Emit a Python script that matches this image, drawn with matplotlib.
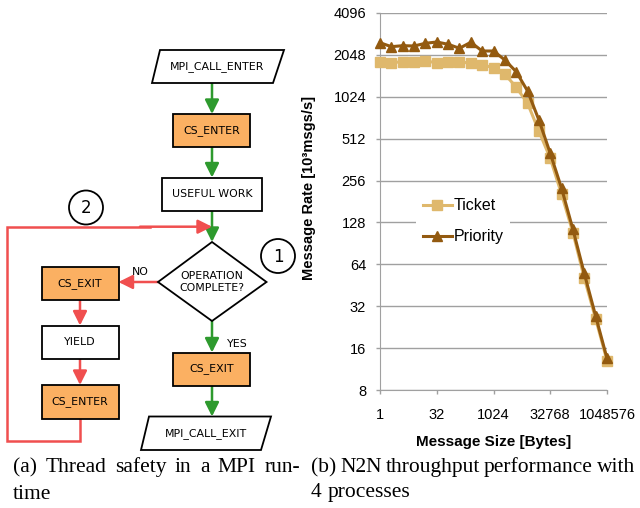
import matplotlib
matplotlib.use('Agg')
import matplotlib.pyplot as plt
from matplotlib.patches import Polygon, Rectangle, Circle
from matplotlib.ticker import NullLocator

# message size (bytes) and rate (10^3 msgs/s)
sizes = [1, 2, 4, 8, 16, 32, 64, 128, 256, 512, 1024, 2048, 4096, 8192,
         16384, 32768, 65536, 131072, 262144, 524288, 1048576]
ticket = [1830, 1800, 1830, 1830, 1850, 1800, 1830, 1830, 1780, 1730, 1660,
          1490, 1200, 920, 580, 370, 204, 108, 51, 26, 13]
priority = [2505, 2346, 2385, 2373, 2481, 2535, 2441, 2285, 2523, 2184, 2184,
            1882, 1551, 1127, 697, 402, 225, 114, 55, 27.2, 13.5]
x_ticks = [1, 32, 1024, 32768, 1048576]
y_ticks = [8, 16, 32, 64, 128, 256, 512, 1024, 2048, 4096]

caption_a = ['(a) Thread safety in a MPI run-', 'time']
caption_b = ['(b) N2N throughput performance with', '4 processes']

GREEN = '#2e9a2e'
RED = '#f04f4f'
ORANGE = '#fbb062'
TICKET = '#dfb86c'
PRIORITY = '#935a10'
GRID = '#a0a0a0'

fig = plt.figure(figsize=(6.4, 5.08), dpi=100)

# full-figure axes in pixel units for the flowchart and captions
fl = fig.add_axes([0, 0, 1, 1])
fl.set_xlim(0, 640)
fl.set_ylim(508, 0)
fl.axis('off')

FS = 7.9


def box(x0, y0, x1, y1, text, fill='white'):
    fl.add_patch(Rectangle((x0, y0), x1 - x0, y1 - y0, fc=fill, ec='black', lw=1.3, zorder=3))
    fl.text((x0 + x1) / 2, (y0 + y1) / 2, text, ha='center', va='center',
            fontsize=FS, family='DejaVu Sans', zorder=4)


def para(xb0, xb1, xt0, xt1, yt, yb, text):
    fl.add_patch(Polygon([(xb0, yb), (xb1, yb), (xt1, yt), (xt0, yt)], closed=True,
                         fc='white', ec='black', lw=1.3, zorder=3))
    fl.text((xb0 + xb1 + xt0 + xt1) / 4, (yt + yb) / 2, text, ha='center', va='center',
            fontsize=FS, family='DejaVu Sans', zorder=4)


def arrow(x0, y0, x1, y1, color):
    fl.annotate('', xy=(x1, y1), xytext=(x0, y0),
                arrowprops=dict(arrowstyle='-|>,head_length=0.6,head_width=0.3',
                                color=color, lw=1.8, shrinkA=0, shrinkB=0,
                                mutation_scale=14), zorder=2)


def numcircle(x, y, n):
    fl.add_patch(Circle((x, y), 17, fc='white', ec='black', lw=1.3, zorder=3))
    fl.text(x, y + 0.5, n, ha='center', va='center', fontsize=12, family='DejaVu Sans', zorder=4)


# main column
para(152, 273, 160, 284, 50, 83, 'MPI_CALL_ENTER')
arrow(212, 83, 212, 114, GREEN)
box(173, 114, 250, 147, 'CS_ENTER', ORANGE)
arrow(212, 147, 212, 177.5, GREEN)
box(162, 177.5, 262, 211, 'USEFUL WORK')
arrow(212, 211, 212, 242, GREEN)
fl.add_patch(Polygon([(212, 242), (266.5, 282), (212, 321), (158, 282)], closed=True,
                     fc='white', ec='black', lw=1.3, zorder=3))
fl.text(212, 282, 'OPERATION\nCOMPLETE?', ha='center', va='center', fontsize=FS,
        family='DejaVu Sans', linespacing=1.3, zorder=4)
arrow(212, 321, 212, 352.5, GREEN)
fl.text(237, 344, 'YES', ha='center', va='center', fontsize=FS, family='DejaVu Sans')
box(173, 352.5, 250, 385.5, 'CS_EXIT', ORANGE)
arrow(212, 385.5, 212, 416.5, GREEN)
para(141, 261, 149, 271, 416.5, 450, 'MPI_CALL_EXIT')

# retry loop
arrow(158, 282, 118.5, 282, RED)
fl.text(140, 272, 'NO', ha='center', va='center', fontsize=FS, family='DejaVu Sans')
box(41.5, 266.5, 118.5, 300, 'CS_EXIT', ORANGE)
arrow(80, 300, 80, 325.5, RED)
box(41.5, 325.5, 118.5, 359, 'YIELD')
arrow(80, 359, 80, 385, RED)
box(41.5, 385, 118.5, 418.5, 'CS_ENTER', ORANGE)
fl.plot([80, 80, 7, 7, 150], [418.5, 441, 441, 226.7, 226.7], color=RED, lw=1.8,
        solid_joinstyle='miter', zorder=2)
arrow(140, 226.7, 212, 226.7, RED)
numcircle(86, 207.5, '2')
numcircle(278, 256, '1')


# captions, justified like the paper
def line(text, x0, y, x1=None, fs=15.5):
    words = text.split()
    parts = [fl.text(x0, y, w, fontsize=fs, family='Liberation Serif', va='baseline')
             for w in words]
    r = fig.canvas.get_renderer()
    widths = [p.get_window_extent(r).width for p in parts]
    space = fs * 100 / 72 * 0.25
    if x1 is not None and len(words) > 1:
        space = (x1 - x0 - sum(widths)) / (len(words) - 1)
    x = x0
    for p, w in zip(parts, widths):
        p.set_x(x)
        x += w + space


line(caption_a[0], 13, 472, 300)
line(caption_a[1], 13, 499)
line(caption_b[0], 311, 472, 635)
line(caption_b[1], 311, 497)

# throughput chart
ax = fig.add_axes([380 / 640, 1 - 390 / 508, 227 / 640, 377 / 508])
ax.set_xscale('log', base=2)
ax.set_yscale('log', base=2)
ax.plot(sizes, ticket, color=TICKET, lw=2.2, marker='s', ms=6.5, label='Ticket',
        clip_on=False, zorder=3)
ax.plot(sizes, priority, color=PRIORITY, lw=2.2, marker='^', ms=7, label='Priority',
        clip_on=False, zorder=4)
ax.set_xlim(1, 1048576)
ax.set_ylim(8, 4096)
ax.set_xticks(x_ticks)
ax.set_xticklabels([str(v) for v in x_ticks], family='Liberation Sans')
ax.set_yticks(y_ticks)
ax.set_yticklabels([str(v) for v in y_ticks], family='Liberation Sans')
ax.xaxis.set_minor_locator(NullLocator())
ax.yaxis.set_minor_locator(NullLocator())
ax.grid(axis='y', color=GRID, lw=1)
ax.set_axisbelow(True)
for s in ['top', 'right']:
    ax.spines[s].set_visible(False)
for s in ['left', 'bottom']:
    ax.spines[s].set_color(GRID)
ax.tick_params(axis='both', color=GRID, length=3, width=1, labelsize=10.5)
ax.tick_params(axis='x', pad=10)
ax.tick_params(axis='y', pad=7)
ax.set_ylabel('Message Rate [10³msgs/s]', fontweight='bold', fontsize=10.5,
              family='Liberation Sans')
ax.yaxis.set_label_coords(-0.28, 0.536)
ax.set_xlabel('Message Size [Bytes]', fontweight='bold', fontsize=11,
              family='Liberation Sans')
ax.xaxis.set_label_coords(0.5, -0.12)
leg = ax.legend(loc='center', bbox_to_anchor=(0.366, 0.447),
                handlelength=1.85, handletextpad=0.1, labelspacing=1.0,
                frameon=True, fancybox=False, framealpha=1, edgecolor='none',
                prop={'family': 'Liberation Sans', 'size': 11.5})

fig.savefig('out.png', dpi=100)
